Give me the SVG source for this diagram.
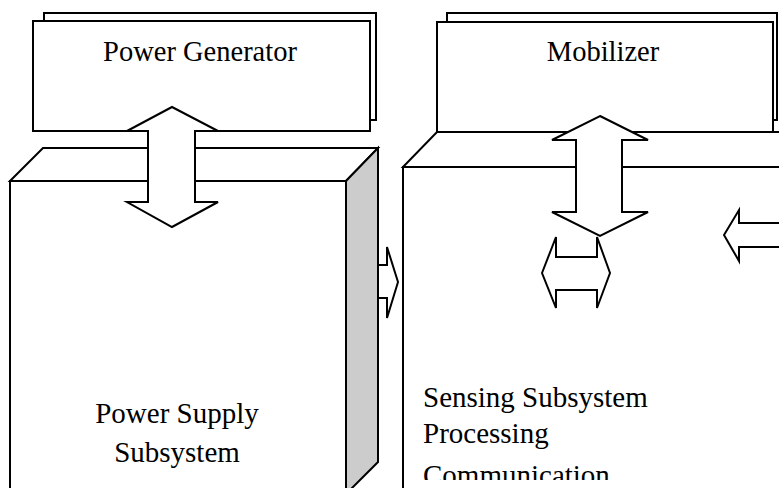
<svg xmlns="http://www.w3.org/2000/svg" width="779" height="488" viewBox="0 0 779 488">
  <style>
    .ln { fill: #ffffff; stroke: #000000; stroke-width: 2; stroke-linejoin: miter; }
    .side { fill: #cccccc; stroke: #000000; stroke-width: 2; }
    .lbl { font-family: "Liberation Serif", "Times New Roman", serif; font-size: 29px; fill: #000000; }
    .ttl { font-size: 28.5px; }
  </style>
  <defs>
    <clipPath id="textClip">
      <rect x="404" y="168" width="375" height="312"/>
    </clipPath>
  </defs>
  <rect width="779" height="488" fill="#ffffff"/>

  <!-- Power generator: stacked card -->
  <g id="power-generator">
    <rect class="ln" x="44" y="13" width="332" height="107"/>
    <rect class="ln" x="33" y="21" width="337" height="110"/>
    <text class="lbl ttl" x="200" y="61" text-anchor="middle">Power Generator</text>
  </g>

  <!-- Mobilizer: stacked card -->
  <g id="mobilizer">
    <rect class="ln" x="447" y="13" width="330" height="107"/>
    <rect class="ln" x="437" y="22" width="336" height="110"/>
    <text class="lbl ttl" x="603" y="61" text-anchor="middle">Mobilizer</text>
  </g>

  <!-- Power supply subsystem: 3-D block -->
  <g id="power-supply">
    <polygon class="ln" points="10,181 43,148 378,148 346,181"/>
    <rect class="ln" x="10" y="181" width="336" height="330"/>
    <polygon class="side" points="346,181 378,148 378,462 346,494"/>
    <text class="lbl" x="177" y="423" text-anchor="middle">Power Supply</text>
    <text class="lbl" x="177" y="462" text-anchor="middle">Subsystem</text>
  </g>

  <!-- Sensing / processing / communication: 3-D block running off the right edge -->
  <g id="sensor-node">
    <polygon class="ln" points="403,167 437,132 800,132 800,167"/>
    <rect class="ln" x="403" y="167" width="400" height="340"/>
    <g clip-path="url(#textClip)">
      <text class="lbl" x="423" y="407">Sensing Subsystem</text>
      <text class="lbl" x="423" y="443">Processing</text>
      <text class="lbl" x="423" y="485">Communication</text>
    </g>
  </g>

  <!-- Block arrows -->
  <g id="connectors">
    <polygon class="ln" points="172,107 218,131 195,131 195,202 218,202 172,227 127,202 148,202 148,131 127,131"/>
    <polygon class="ln" points="600,116 648,140 622,140 622,212 648,212 600,236 552,212 576,212 576,140 552,140"/>
    <polygon class="ln" points="542,273 556,237 556,257 597,257 597,237 610,273 597,308 597,290 556,290 556,308"/>
    <polygon class="ln" points="378,265 387,265 387,247 398,282 387,318 387,298 378,298"/>
    <polygon class="ln" points="724,235 739,210 739,223 790,223 790,247 739,247 739,261"/>
  </g>
</svg>
